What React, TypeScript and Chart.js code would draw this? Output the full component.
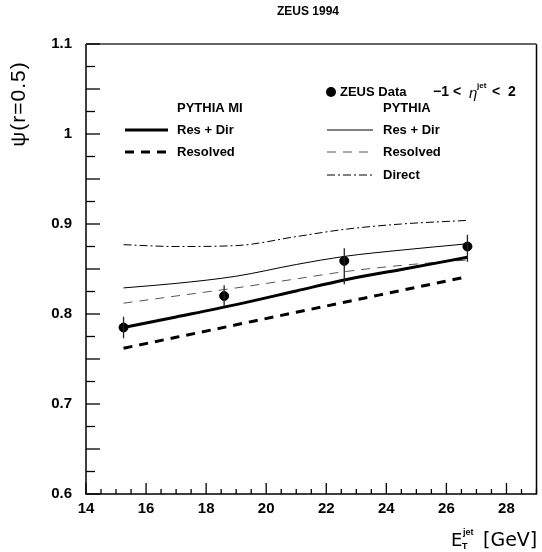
import React, { useEffect, useRef } from 'react';
import { Chart, registerables } from 'chart.js';

Chart.register(...registerables);

// ---- data ----
const dataX = [15.25, 18.6, 22.6, 26.7];
const zeusY = [0.785, 0.82, 0.859, 0.875];
const zeusErrUp = [0.012, 0.012, 0.014, 0.013];
const zeusErrDown = [0.012, 0.012, 0.026, 0.017];

const curveX = [15.25, 17, 19, 21, 22.6, 24.5, 26.7];
const miResDir = [0.785, 0.7967, 0.8104, 0.8256, 0.8378, 0.8495, 0.863];
const miResolved = [0.762, 0.7741, 0.788, 0.8019, 0.813, 0.8262, 0.8415];
const pyResDir = [0.829, 0.834, 0.842, 0.855, 0.864, 0.871, 0.878];
const pyResolved = [0.812, 0.82, 0.829, 0.839, 0.847, 0.854, 0.86];
const pyDirect = [0.877, 0.875, 0.876, 0.886, 0.894, 0.9, 0.904];

const xTickValues = [14, 16, 18, 20, 22, 24, 26, 28];
const yTickValues = [0.6, 0.7, 0.8, 0.9, 1.0, 1.1];
const yTickLabels = ['0.6', '0.7', '0.8', '0.9', '1', '1.1'];

const FONT = '"Liberation Sans", Arial, sans-serif';
const WIDE = '"DejaVu Sans", sans-serif';

const toPts = (xs: number[], ys: number[]) => xs.map((x, i) => ({ x, y: ys[i] }));

const decorPlugin = {
  id: 'decor',
  afterDatasetsDraw(chart: any) {
    const ctx = chart.ctx as CanvasRenderingContext2D;
    const xs = chart.scales.x;
    const ys = chart.scales.y;
    ctx.save();
    ctx.strokeStyle = '#222';
    ctx.lineWidth = 1.3;
    dataX.forEach((x, i) => {
      const px = xs.getPixelForValue(x);
      ctx.beginPath();
      ctx.moveTo(px, ys.getPixelForValue(zeusY[i] + zeusErrUp[i]));
      ctx.lineTo(px, ys.getPixelForValue(zeusY[i] - zeusErrDown[i]));
      ctx.stroke();
    });
    ctx.restore();
  },
  afterDraw(chart: any) {
    const ctx = chart.ctx as CanvasRenderingContext2D;
    const xs = chart.scales.x;
    const ys = chart.scales.y;
    const { left, right, top, bottom } = chart.chartArea;
    ctx.save();
    // frame
    ctx.lineCap = 'butt';
    ctx.strokeStyle = '#000';
    ctx.lineWidth = 1.5;
    ctx.beginPath();
    ctx.moveTo(left, top);
    ctx.lineTo(left, bottom);
    ctx.lineTo(right, bottom);
    ctx.lineTo(right, top);
    ctx.stroke();
    ctx.strokeStyle = '#666';
    ctx.lineWidth = 2;
    ctx.beginPath();
    ctx.moveTo(left, top);
    ctx.lineTo(right, top);
    ctx.stroke();

    // ticks inside
    ctx.strokeStyle = '#000';
    ctx.lineWidth = 1.3;
    for (let v = 14; v <= 29.001; v += 0.5) {
      const px = xs.getPixelForValue(v);
      const major = Math.abs(v / 2 - Math.round(v / 2)) < 1e-6;
      const len = major ? 11 : 5;
      ctx.beginPath();
      ctx.moveTo(px, bottom);
      ctx.lineTo(px, bottom - len);
      ctx.stroke();
    }
    for (let k = 0; k <= 20; k++) {
      const v = 0.6 + k * 0.025;
      const py = ys.getPixelForValue(v);
      const len = k % 2 === 0 ? 14 : 9;
      ctx.beginPath();
      ctx.moveTo(left, py);
      ctx.lineTo(left + len, py);
      ctx.stroke();
    }

    ctx.fillStyle = '#000';
    // title
    ctx.font = `bold 12px ${FONT}`;
    ctx.textAlign = 'center';
    ctx.textBaseline = 'middle';
    ctx.fillText('ZEUS 1994', 308, 12);

    // y axis title
    ctx.save();
    ctx.translate(19, 104);
    ctx.rotate(-Math.PI / 2);
    ctx.font = `21px ${FONT}`;
    ctx.textAlign = 'center';
    ctx.textBaseline = 'middle';
    (ctx as any).letterSpacing = '1px';
    ctx.fillText('\u03C8(r=0.5)', 0, 0);
    ctx.restore();

    // x axis title
    ctx.textAlign = 'left';
    ctx.textBaseline = 'alphabetic';
    ctx.font = `18px ${WIDE}`;
    ctx.fillText('E', 451, 546);
    ctx.font = `bold 9px ${FONT}`;
    ctx.fillText('jet', 463, 535);
    ctx.fillText('T', 462, 549);
    ctx.font = `19px ${WIDE}`;
    ctx.fillText('[GeV]', 483, 546);

    // legend
    ctx.textBaseline = 'middle';
    ctx.font = `bold 13px ${FONT}`;
    ctx.fillText('PYTHIA MI', 177, 108);
    ctx.fillText('Res + Dir', 177, 130);
    ctx.fillText('Resolved', 177, 152);
    ctx.fillText('PYTHIA', 383, 108);
    ctx.fillText('Res + Dir', 383, 130);
    ctx.fillText('Resolved', 383, 152);
    ctx.fillText('Direct', 383, 175);

    const seg = (x0: number, x1: number, y: number, w: number, dash: number[], color: string) => {
      ctx.save();
      ctx.strokeStyle = color;
      ctx.lineWidth = w;
      ctx.setLineDash(dash);
      ctx.beginPath();
      ctx.moveTo(x0, y);
      ctx.lineTo(x1, y);
      ctx.stroke();
      ctx.restore();
    };
    seg(125, 168, 130, 3, [], '#000');
    seg(125, 168, 152, 3, [9, 7], '#000');
    seg(327, 373, 130, 1, [], '#000');
    seg(327, 373, 152, 1, [9, 7], '#555');
    seg(327, 373, 175, 1, [8, 3, 2, 3], '#000');

    // ZEUS data legend
    ctx.beginPath();
    ctx.arc(331, 92, 5, 0, Math.PI * 2);
    ctx.fill();
    ctx.font = `bold 13px ${FONT}`;
    ctx.fillText('ZEUS Data', 340, 92);
    ctx.font = `bold 14px ${FONT}`;
    ctx.fillText('\u22121', 433, 92);
    ctx.fillText('<', 453, 92);
    ctx.font = `italic 15px ${FONT}`;
    ctx.fillText('\u03B7', 469, 94);
    ctx.font = `bold 8px ${FONT}`;
    ctx.fillText('jet', 477, 86);
    ctx.font = `bold 14px ${FONT}`;
    ctx.fillText('<', 492, 92);
    ctx.fillText('2', 508, 92);

    ctx.restore();
  },
};

export default function App() {
  const ref = useRef<HTMLCanvasElement>(null);
  useEffect(() => {
    document.body.style.margin = '0';
    const canvas = ref.current!;
    const chart = new Chart(canvas, {
      type: 'line',
      data: {
        datasets: [
          {
            label: 'ZEUS Data',
            data: toPts(dataX, zeusY),
            showLine: false,
            pointRadius: 4.5,
            pointBackgroundColor: '#000',
            pointBorderColor: '#000',
            borderColor: '#000',
          },
          {
            label: 'PYTHIA MI Res + Dir',
            data: toPts(curveX, miResDir),
            borderColor: '#000',
            borderWidth: 3,
            pointRadius: 0,
            cubicInterpolationMode: 'monotone',
          },
          {
            label: 'PYTHIA MI Resolved',
            data: toPts(curveX, miResolved),
            borderColor: '#000',
            borderWidth: 3,
            borderDash: [9, 7],
            pointRadius: 0,
            cubicInterpolationMode: 'monotone',
          },
          {
            label: 'PYTHIA Res + Dir',
            data: toPts(curveX, pyResDir),
            borderColor: '#000',
            borderWidth: 1,
            pointRadius: 0,
            cubicInterpolationMode: 'monotone',
          },
          {
            label: 'PYTHIA Resolved',
            data: toPts(curveX, pyResolved),
            borderColor: '#555',
            borderWidth: 1,
            borderDash: [9, 7],
            pointRadius: 0,
            cubicInterpolationMode: 'monotone',
          },
          {
            label: 'PYTHIA Direct',
            data: toPts(curveX, pyDirect),
            borderColor: '#000',
            borderWidth: 1,
            borderDash: [8, 3, 2, 3],
            pointRadius: 0,
            cubicInterpolationMode: 'monotone',
          },
        ],
      },
      options: {
        responsive: false,
        animation: false,
        devicePixelRatio: 1,
        layout: { padding: { top: 44, right: 3, left: 0, bottom: 0 } },
        plugins: {
          legend: { display: false },
          title: { display: false },
          tooltip: { enabled: false },
        },
        scales: {
          x: {
            type: 'linear',
            min: 14,
            max: 29,
            grid: { display: false, drawTicks: false },
            border: { display: false },
            ticks: {
              color: '#000',
              font: { family: FONT, size: 15, weight: 'bold' },
              padding: 6,
              maxRotation: 0,
              autoSkip: false,
              callback: (v: any) => String(v),
            },
            afterBuildTicks: (s: any) => {
              s.ticks = xTickValues.map((v) => ({ value: v }));
            },
            afterFit: (s: any) => {
              s.height = 58;
            },
          },
          y: {
            type: 'linear',
            min: 0.6,
            max: 1.1,
            grid: { display: false, drawTicks: false },
            border: { display: false },
            ticks: {
              color: '#000',
              font: { family: FONT, size: 15, weight: 'bold' },
              padding: 14,
              autoSkip: false,
              callback: (v: any) => {
                const i = yTickValues.findIndex((t) => Math.abs(t - Number(v)) < 1e-6);
                return i >= 0 ? yTickLabels[i] : '';
              },
            },
            afterBuildTicks: (s: any) => {
              s.ticks = yTickValues.map((v) => ({ value: v }));
            },
            afterFit: (s: any) => {
              s.width = 86;
            },
          },
        },
      },
      plugins: [decorPlugin],
    } as any);
    return () => chart.destroy();
  }, []);
  return (
    <div style={{ width: 542, height: 552 }}>
      <canvas ref={ref} width={542} height={552} style={{ width: 542, height: 552, display: 'block' }} />
    </div>
  );
}
